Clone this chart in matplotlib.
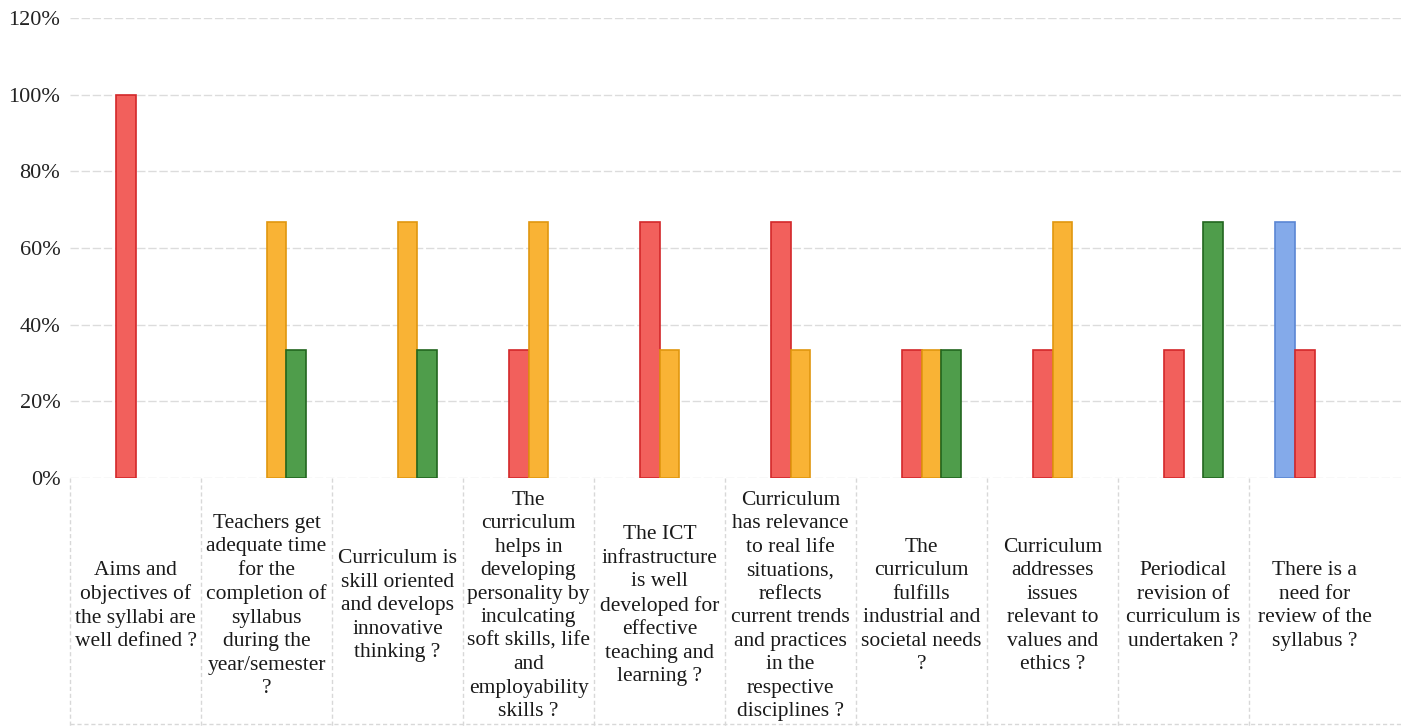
import matplotlib.pyplot as plt
import matplotlib.transforms as mtransforms
import numpy as np

# survey items (x axis)
categories = [
    "Aims and\nobjectives of\nthe syllabi are\nwell defined ?",
    "Teachers get\nadequate time\nfor the\ncompletion of\nsyllabus\nduring the\nyear/semester\n?",
    "Curriculum is\nskill oriented\nand develops\ninnovative\nthinking ?",
    "The\ncurriculum\nhelps in\ndeveloping\npersonality by\ninculcating\nsoft skills, life\nand\nemployability\nskills ?",
    "The ICT\ninfrastructure\nis well\ndeveloped for\neffective\nteaching and\nlearning ?",
    "Curriculum\nhas relevance\nto real life\nsituations,\nreflects\ncurrent trends\nand practices\nin the\nrespective\ndisciplines ?",
    "The\ncurriculum\nfulfills\nindustrial and\nsocietal needs\n?",
    "Curriculum\naddresses\nissues\nrelevant to\nvalues and\nethics ?",
    "Periodical\nrevision of\ncurriculum is\nundertaken ?",
    "There is a\nneed for\nreview of the\nsyllabus ?",
]

# percentages per series
blue_vals   = [0, 0, 0, 0, 0, 0, 0, 0, 0, 66.67]
red_vals    = [100, 0, 0, 33.33, 66.67, 66.67, 33.33, 33.33, 33.33, 33.33]
orange_vals = [0, 66.67, 66.67, 66.67, 33.33, 33.33, 33.33, 66.67, 0, 0]
green_vals  = [0, 33.33, 33.33, 0, 0, 0, 33.33, 0, 66.67, 0]

yticks = [0, 20, 40, 60, 80, 100, 120]

series = [
    (blue_vals, '#84aaea', '#5b86d4'),
    (red_vals, '#f2605c', '#d3282a'),
    (orange_vals, '#f9b335', '#e0970f'),
    (green_vals, '#4f9d4b', '#22661f'),
]

plt.rcParams['font.family'] = ['Liberation Serif', 'DejaVu Serif']

fig = plt.figure(figsize=(14.01, 7.27), dpi=100)
ax = fig.add_axes([0.05, 0.3425, 0.95, 0.6327])

x = np.arange(len(categories))
w = 0.15
offsets = [-1.5 * w, -0.5 * w, 0.5 * w, 1.5 * w]
for (vals, face, edge), off in zip(series, offsets):
    v = np.array(vals, dtype=float)
    mask = v > 0
    ax.bar(x[mask] + off, v[mask], width=w, color=face, edgecolor=edge,
           linewidth=1.2, zorder=3)

ax.set_xlim(-0.5, 9.66)
ax.set_ylim(0, 120)
ax.set_yticks(yticks)
ax.set_yticklabels([f"{t}%" for t in yticks], fontsize=16, color='#222222')
ax.tick_params(axis='y', length=0, pad=7)
ax.set_xticks([])
ax.yaxis.grid(True, color='#dcdcdc', linewidth=1.0, linestyle=(0, (6, 2)))
ax.set_axisbelow(True)
for s in ax.spines.values():
    s.set_visible(False)

# category labels in table-like cells under the plot
trans = mtransforms.blended_transform_factory(ax.transData, ax.transAxes)
for i, lab in enumerate(categories):
    ax.text(i, -0.278, lab, transform=trans, ha='center', va='center',
            fontsize=15.5, linespacing=1.32, color='#1a1a1a')
for b in np.arange(-0.5, 9.0, 1.0):
    ax.plot([b, b], [0, -0.54], transform=trans, color='#d8d8d8',
            linewidth=1.0, linestyle=(0, (3, 2)), clip_on=False)
ax.plot([-0.5, 9.66], [-0.535, -0.535], transform=trans, color='#d8d8d8',
        linewidth=1.0, linestyle=(0, (3, 2)), clip_on=False)

fig.savefig('out.png', dpi=100)
